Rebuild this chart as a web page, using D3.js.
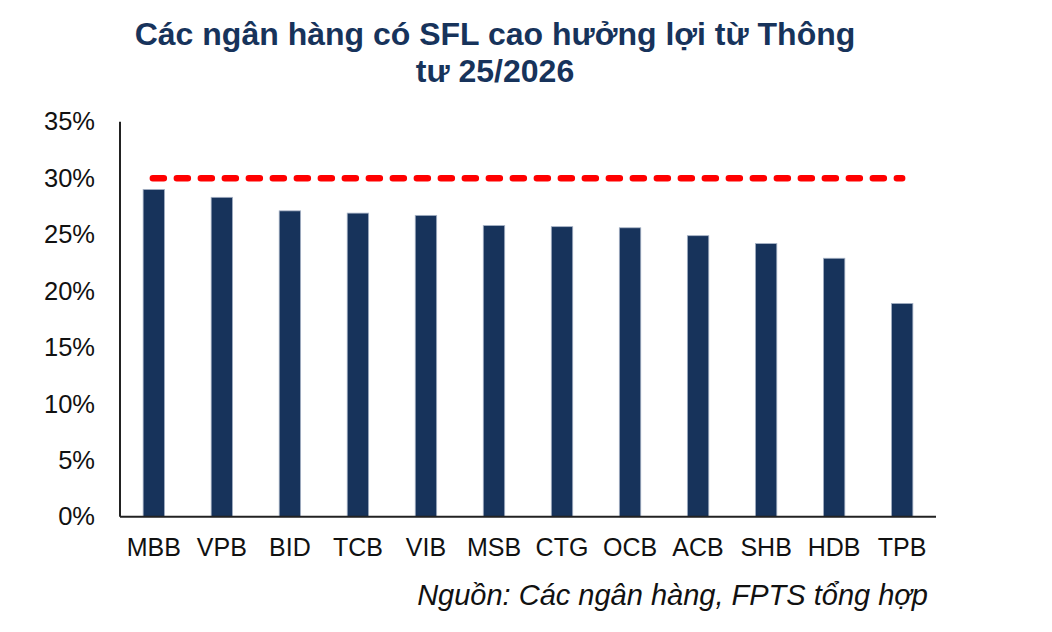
<!DOCTYPE html>
<html><head><meta charset="utf-8">
<script src="https://cdn.jsdelivr.net/npm/d3@7"></script>
<style>
html,body{margin:0;padding:0;background:#fff;}
svg{display:block;}
</style></head>
<body>
<svg id="chart" width="1052" height="632"></svg>
<script>
const categories = ["MBB","VPB","BID","TCB","VIB","MSB","CTG","OCB","ACB","SHB","HDB","TPB"];
const values = [29.0, 28.3, 27.1, 26.9, 26.7, 25.8, 25.7, 25.6, 24.9, 24.2, 22.9, 18.9];
const threshold = 30;
const yTicks = [0,5,10,15,20,25,30,35];
const titleLines = ["Các ngân hàng có SFL cao hưởng lợi từ Thông","tư 25/2026"];
const sourceText = "Nguồn: Các ngân hàng, FPTS tổng hợp";

const svg = d3.select("#chart");
const mLeft = 120, mRight = 936, mTop = 121.7, mBottom = 516.7;
const x = d3.scaleBand().domain(categories).range([mLeft, mRight]).paddingInner(0.685).paddingOuter(0.34);
const y = d3.scaleLinear().domain([0,35]).range([mBottom, mTop]);
const navy = "#17335b";
const font = "'Liberation Sans', Arial, Helvetica, sans-serif";

// title
svg.append("g").selectAll("text").data(titleLines).join("text")
  .attr("x", 495).attr("y", (d,i)=>45 + i*37)
  .attr("text-anchor","middle")
  .attr("font-family", font).attr("font-weight","bold").attr("font-size", 32)
  .attr("fill", navy).text(d=>d);

// bars
svg.append("g").selectAll("rect").data(values).join("rect")
  .attr("x",(d,i)=>x(categories[i]))
  .attr("width", x.bandwidth())
  .attr("y", d=>y(d))
  .attr("height", d=>y(0)-y(d))
  .attr("fill", navy)
  .attr("stroke","#a7b3c6").attr("stroke-width",0.8);

// threshold line
svg.append("line")
  .attr("x1", x(categories[0]) + x.bandwidth()/2 - 1)
  .attr("x2", x(categories[categories.length-1]) + x.bandwidth()/2)
  .attr("y1", y(threshold)).attr("y2", y(threshold))
  .attr("stroke","#ff0000").attr("stroke-width",6.5)
  .attr("stroke-linecap","round")
  .attr("stroke-dasharray","11,13");

// y axis
const yAxis = d3.axisLeft(y).tickValues(yTicks).tickSize(0).tickPadding(25).tickFormat(d=>d+"%");
const gy = svg.append("g").attr("transform",`translate(${mLeft},0)`).call(yAxis);
gy.select(".domain").attr("stroke","#222").attr("stroke-width",2).attr("d",`M0,${mTop}V${mBottom}`);
gy.selectAll("text").attr("font-family",font).attr("font-size",25.5).attr("fill","#111");

// x axis
const xAxis = d3.axisBottom(x).tickSize(0).tickPadding(22);
const gx = svg.append("g").attr("transform",`translate(0,${mBottom})`).call(xAxis);
gx.select(".domain").attr("stroke","#222").attr("stroke-width",2).attr("d",`M${mLeft},0H${mRight}`);
gx.selectAll("text").attr("font-family",font).attr("font-size",25).attr("fill","#111");

// source
svg.append("text").attr("x",928).attr("y",605).attr("text-anchor","end")
  .attr("font-family",font).attr("font-style","italic").attr("font-size",29)
  .attr("fill","#111").text(sourceText);
</script>
</body></html>
